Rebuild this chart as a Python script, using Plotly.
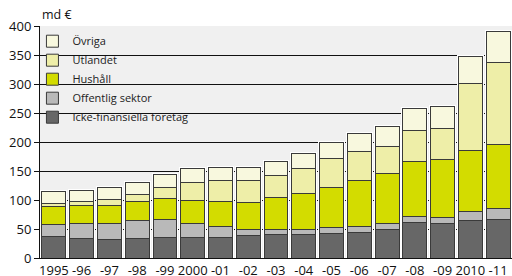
import plotly.graph_objects as go

years = ["1995", "-96", "-97", "-98", "-99", "2000", "-01", "-02", "-03",
         "-04", "-05", "-06", "-07", "-08", "-09", "2010", "-11"]

icke = [37, 34, 32, 33.5, 36, 35, 36, 38, 40, 40, 43, 44, 49, 62, 59, 65, 67]
offentlig = [21, 25, 28, 31, 30, 25, 18, 12, 10, 10, 10, 11, 10, 10, 11, 16, 18]
hushall = [31, 32, 31, 33.5, 37, 39, 43, 46, 54, 61, 69, 78, 87, 94, 99, 104, 110]
utlandet = [5, 7, 10, 12, 18, 32, 36, 38, 38, 44, 49, 50, 47, 54, 55, 116, 142]
ovriga = [20, 19, 21, 21, 23, 23, 23, 22, 25, 26, 28, 32, 34, 37, 38, 46, 53]

series = [
    ("Icke-finansiella företag", icke, "#676767"),
    ("Offentlig sektor", offentlig, "#b9b9b9"),
    ("Hushåll", hushall, "#d3dc00"),
    ("Utlandet", utlandet, "#eeeea8"),
    ("Övriga", ovriga, "#f8f8de"),
]

totals = [sum(v) for v in zip(icke, offentlig, hushall, utlandet, ovriga)]

FONT = "Open Sans"
fig = go.Figure()

# white halo behind each bar stack
fig.add_trace(go.Bar(
    x=years, y=totals, showlegend=False, hoverinfo="skip",
    marker=dict(color="rgba(0,0,0,0)", line=dict(color="white", width=3)),
    xaxis="x", yaxis="y",
))

for name, vals, col in series:
    fig.add_trace(go.Bar(
        x=years, y=vals, name=name,
        marker=dict(color=col, line=dict(color="#3a3a3a", width=1)),
        xaxis="x2", yaxis="y",
    ))

fig.update_layout(
    width=512, height=276,
    margin=dict(l=40, r=0, t=26, b=18, autoexpand=False),
    barmode="stack", bargap=0.14,
    paper_bgcolor="white", plot_bgcolor="#f0f0f0",
    font=dict(family=FONT, size=13, color="#111"),
    showlegend=True,
    legend=dict(
        x=-0.016, y=0.997, xanchor="left", yanchor="top",
        bgcolor="rgba(0,0,0,0)", traceorder="reversed",
        font=dict(family=FONT, size=11, color="#222"),
        tracegroupgap=0, itemwidth=30,
    ),
    xaxis=dict(
        type="category", range=[-0.5, 16.5], showgrid=False,
        showline=True, linecolor="#111", linewidth=1,
        ticks="", tickfont=dict(size=13), fixedrange=True,
    ),
    xaxis2=dict(
        type="category", overlaying="x", matches="x", visible=False,
        range=[-0.5, 16.5],
    ),
    yaxis=dict(
        range=[0, 400], tickvals=[0, 50, 100, 150, 200, 250, 300, 350, 400],
        showgrid=True, gridcolor="#111", gridwidth=1,
        showline=True, linecolor="#111", linewidth=1,
        ticks="outside", ticklen=5, tickcolor="#111",
        zeroline=False, tickfont=dict(size=13), fixedrange=True,
    ),
    annotations=[dict(
        text="md €", x=0.0, y=1.0, xref="paper", yref="paper",
        xanchor="left", yanchor="bottom", yshift=1, showarrow=False,
        font=dict(family=FONT, size=12.5, color="#111"),
    )],
)

fig.write_html(
    "out.html",
    config={"displayModeBar": False},
    post_script="document.body.style.margin='0';document.body.style.padding='0';",
)
